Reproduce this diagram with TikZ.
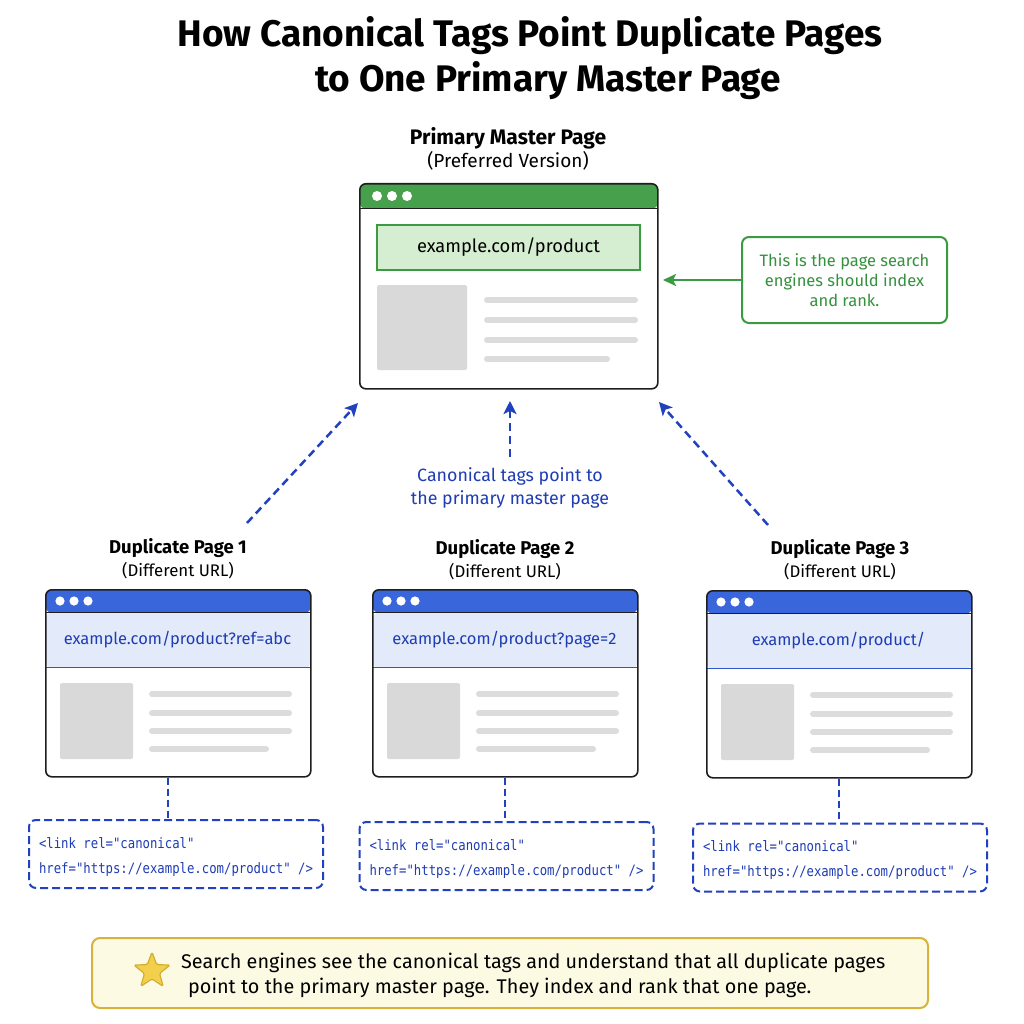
\documentclass[tikz,border=0pt]{standalone}
\usepackage{fontspec}
\setmainfont{Fira Sans}
\newfontfamily\codefont[FakeStretch=0.86]{DejaVu Sans Mono}
\usetikzlibrary{arrows.meta,shapes.geometric}
\definecolor{gHdr}{HTML}{47A04B}
\definecolor{gFill}{HTML}{D5EDD1}
\definecolor{gLine}{HTML}{3C9A43}
\definecolor{gText}{HTML}{34913D}
\definecolor{bHdr}{HTML}{3A66DC}
\definecolor{bBand}{HTML}{E3EBFB}
\definecolor{bLine}{HTML}{2F55C8}
\definecolor{bText}{HTML}{1E3CB4}
\definecolor{bDash}{HTML}{2141BE}
\definecolor{grayBlk}{HTML}{D9D9D9}
\definecolor{grayLn}{HTML}{DCDCDC}
\definecolor{noteFill}{HTML}{FDFAE4}
\definecolor{noteLine}{HTML}{D8B23A}
\definecolor{starFill}{HTML}{F2CF4C}
\definecolor{starLine}{HTML}{D3AE2E}
\definecolor{bord}{HTML}{1E1E1E}
\tikzset{
  winbase/.style={draw=bord, line width=1.6pt, rounded corners=6pt, fill=white, inner sep=0pt},
  masterwin/.style={winbase, path picture={
      \fill[gHdr] (path picture bounding box.north west) rectangle ([yshift=-25pt]path picture bounding box.north east);
      \draw[bord, line width=1.2pt] ([yshift=-25pt]path picture bounding box.north west) -- ([yshift=-25pt]path picture bounding box.north east);}},
  dupwinst/.style={winbase, path picture={
      \fill[bBand] ([yshift=-23pt]path picture bounding box.north west) rectangle ([yshift=-78pt]path picture bounding box.north east);
      \draw[bLine, line width=1.2pt] ([yshift=-78pt]path picture bounding box.north west) -- ([yshift=-78pt]path picture bounding box.north east);
      \fill[bHdr] (path picture bounding box.north west) rectangle ([yshift=-23pt]path picture bounding box.north east);
      \draw[bord, line width=1.2pt] ([yshift=-23pt]path picture bounding box.north west) -- ([yshift=-23pt]path picture bounding box.north east);}},
  ttl/.style={font=\fontsize{37}{44}\selectfont\bfseries, inner sep=0pt},
  lbl/.style={font=\fontsize{21}{25}\selectfont\bfseries, inner sep=0pt},
  sublbl/.style={font=\fontsize{19}{22}\selectfont, inner sep=0pt},
  dlbl/.style={font=\fontsize{18.5}{22}\selectfont\bfseries, inner sep=0pt},
  dsub/.style={font=\fontsize{16.8}{20}\selectfont, inner sep=0pt},
  urltext/.style={font=\fontsize{16.5}{20}\selectfont, text=bText, inner sep=0pt},
  grayln/.style={grayLn, line width=6pt, line cap=round},
  codebox/.style={draw=bDash, line width=2pt, dash pattern=on 8pt off 4pt, rounded corners=7pt,
      minimum width=294pt, minimum height=68pt, inner sep=0pt},
  codetext/.style={align=left, text=bText, inner sep=0pt, font=\fontsize{14.3}{25}\codefont},
  vconn/.style={bDash, line width=2pt, dash pattern=on 7pt off 4pt},
  bluearrow/.style={bDash, line width=2.5pt, dash pattern=on 8pt off 5pt,
      -{Stealth[length=13pt,width=13pt,inset=3pt]}},
  garrow/.style={gLine, line width=2.5pt, -{Stealth[length=13pt,width=12pt,inset=3pt]}},
}
\newcommand\dupwin[4]{%
  \node[dupwinst, minimum width=265pt, minimum height=187pt, anchor=north west] (#1) at (#2,#3) {};
  \foreach \dx in {15,29,43} \fill[white] (#2+\dx,#3+12) circle (4.6pt);
  \node[urltext] (#1url) at (#2+132.5,#3+51) {#4};
  \fill[grayBlk, rounded corners=2pt] (#2+15,#3+94) rectangle (#2+88,#3+170);
  \foreach \yy in {105,124,142} \draw[grayln] (#2+107,#3+\yy) -- (#2+244,#3+\yy);
  \draw[grayln] (#2+107,#3+160) -- (#2+221,#3+160);
}
\begin{document}
\begin{tikzpicture}[x=1pt,y=-1pt]
\useasboundingbox[fill=white] (0,0) rectangle (1024,1024);

% title
\node[ttl] (t1) at (530,36) {How Canonical Tags Point Duplicate Pages};
\node[ttl] (t2) at (548,81) {to One Primary Master Page};

% master page
\node[lbl] (ml1) at (508,138) {Primary Master Page};
\node[sublbl] (ml2) at (508,161) {(Preferred Version)};
\node[masterwin, minimum width=298pt, minimum height=205pt, anchor=north west] (master) at (359,183) {};
\foreach \dx in {18,33,48} \fill[white] (359+\dx,196) circle (5pt);
\node[draw=gLine, fill=gFill, line width=1.5pt, minimum width=263pt, minimum height=45pt,
      font=\fontsize{18.3}{22}\selectfont, inner sep=0pt] (murl) at (508.5,247.5) {example.com/product};
\fill[grayBlk, rounded corners=2pt] (377,285) rectangle (467,370);
\foreach \yy in {300,320,340} \draw[grayln] (487,\yy) -- (635,\yy);
\draw[grayln] (487,359) -- (607,359);

% callout
\node[draw=gLine, line width=2pt, rounded corners=7pt, minimum width=205pt, minimum height=86pt,
      align=center, text=gText, font=\fontsize{16.5}{20}\selectfont, inner sep=0pt] (call) at (844.5,280)
      {This is the page search\\engines should index\\and rank.};
\coordinate (gtip) at (663,280);
\draw[garrow] (call.west) -- (gtip);

% blue arrows
\coordinate (l1s) at (247,523); \coordinate (l1e) at (358,403);
\coordinate (l2s) at (510,457); \coordinate (l2e) at (510,401);
\coordinate (l3s) at (768,525); \coordinate (l3e) at (659,402);
\draw[bluearrow] (l1s) -- (l1e);
\draw[bluearrow] (l2s) -- (l2e);
\draw[bluearrow] (l3s) -- (l3e);
\node[align=center, text=bText, font=\fontsize{17.8}{23}\selectfont, inner sep=0pt] (canon) at (510,488)
  {Canonical tags point to\\the primary master page};

% duplicates
\node[dlbl] (d1l) at (178,548) {Duplicate Page 1};
\node[dsub] (d1s) at (178,571) {(Different URL)};
\node[dlbl] (d2l) at (505,549) {Duplicate Page 2};
\node[dsub] (d2s) at (505,572) {(Different URL)};
\node[dlbl] (d3l) at (840,549) {Duplicate Page 3};
\node[dsub] (d3s) at (840,572) {(Different URL)};
\dupwin{dup1}{45}{589}{example.com/product?ref=abc}
\dupwin{dup2}{372}{589}{example.com/product?page=2}
\dupwin{dup3}{706}{590}{example.com/product/}

% code boxes
\node[codebox] (code1) at (176,854) {};
\node[codebox] (code2) at (506.5,856) {};
\node[codebox] (code3) at (840,857.5) {};
\node[codetext] (c1t) at ([yshift=-3pt]code1.center) {<link rel="canonical"\\href="https://example.com/product" />};
\node[codetext] (c2t) at ([yshift=-3pt]code2.center) {<link rel="canonical"\\href="https://example.com/product" />};
\node[codetext] (c3t) at ([yshift=-3pt]code3.center) {<link rel="canonical"\\href="https://example.com/product" />};
\draw[vconn] ([xshift=-10pt]dup1.south) -- ([xshift=-10pt]dup1.south |- code1.north);
\draw[vconn] (dup2.south) -- (dup2.south |- code2.north);
\draw[vconn] (dup3.south) -- (dup3.south |- code3.north);

% note
\node[draw=noteLine, fill=noteFill, line width=2pt, rounded corners=8pt, minimum width=836pt,
      minimum height=70pt, inner sep=0pt] (note) at (510,973) {};
\node[star, star points=5, star point ratio=2.4, fill=starFill, draw=starLine, line width=1.2pt,
      minimum size=38pt, inner sep=0pt, rounded corners=1.5pt] (star) at (152,971) {};
\node[anchor=west, font=\fontsize{19.8}{22}\selectfont, inner sep=0pt] (n1) at (181,963)
  {Search engines see the canonical tags and understand that all duplicate pages};
\node[anchor=west, font=\fontsize{19.8}{22}\selectfont, inner sep=0pt] (n2) at (188,988)
  {point to the primary master page. They index and rank that one page.};
\end{tikzpicture}
\end{document}
